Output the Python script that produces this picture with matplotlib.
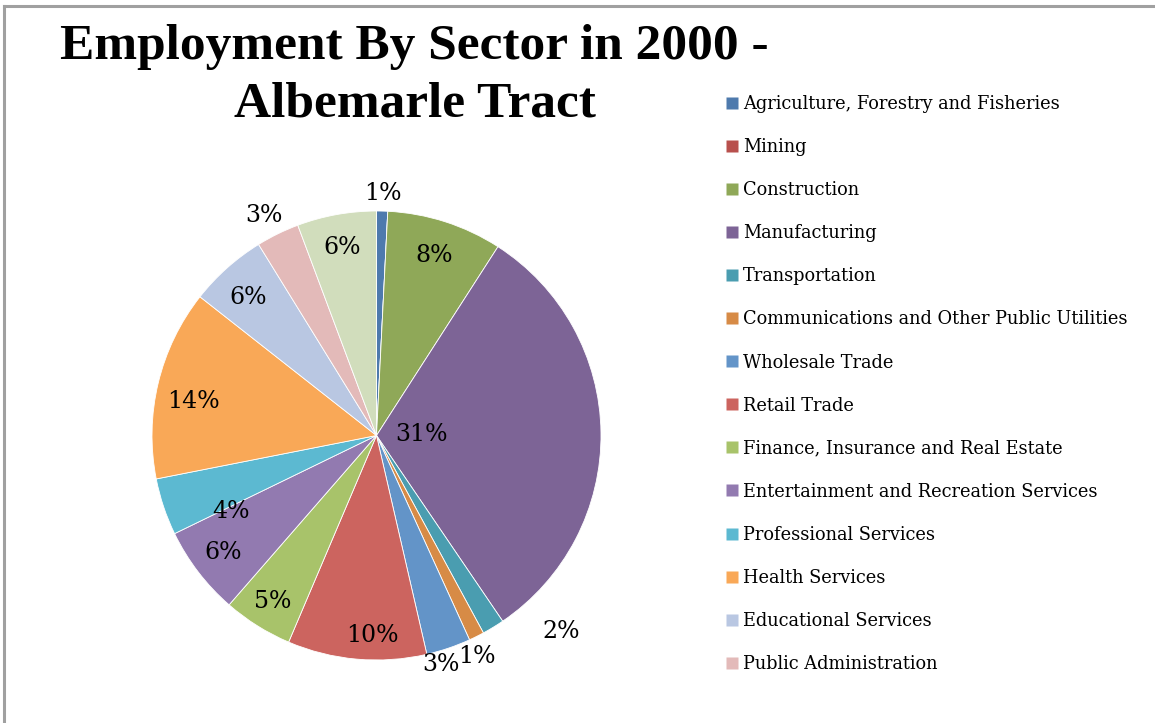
import matplotlib.pyplot as plt
from matplotlib.lines import Line2D
import numpy as np

# Employment shares by sector, percent of total
sectors = ['Agriculture, Forestry and Fisheries', 'Mining', 'Construction',
           'Manufacturing', 'Transportation',
           'Communications and Other Public Utilities', 'Wholesale Trade',
           'Retail Trade', 'Finance, Insurance and Real Estate',
           'Entertainment and Recreation Services', 'Professional Services',
           'Health Services', 'Educational Services', 'Public Administration',
           'Other Services']
shares = [0.8, 0.0, 8.3, 31.4, 1.6, 1.1, 3.2, 10.0, 5.0, 6.4, 4.1, 13.7, 5.6, 3.1, 5.7]
legendCount = 14  # legend box only has room for the first 14 entries

clr = ['#4E7AAD', '#B8504D', '#8FA858', '#7D6496', '#4A9DB0', '#D78B46',
       '#6394C8', '#CC645F', '#A8C36A', '#927AB0', '#5CB9D1', '#F9A857',
       '#B9C7E2', '#E3BAB9', '#D1DDBC']

# where each percentage label sits: fraction of radius, angle nudge (deg)
lblRad = [1.08, 1.0, 0.84, 0.20, 1.20, 1.08, 1.06, 0.89, 0.87, 0.86, 0.73, 0.83, 0.84, 1.10, 0.85]
lblShift = [0, 0, 0, 0, -12, 2, 3, -4, 0, 0, -9, -3, -1, -1, 0]

W, H = 1155, 723
fig = plt.figure(figsize=(W / 100, H / 100), dpi=100)
ax = fig.add_axes([0, 0, 1, 1])

cx, cy, R = 376.5, H - 435.5, 224.5
wedges, _ = ax.pie(shares, colors=clr, startangle=90, counterclock=False,
                   center=(cx, cy), radius=R, frame=True,
                   wedgeprops=dict(edgecolor='white', linewidth=0.6))
ax.set_xlim(0, W)
ax.set_ylim(0, H)
ax.set_aspect('equal')
ax.axis('off')

total = sum(shares)
cum = 0.0
for i, v in enumerate(shares):
    mid = (cum + v / 2) / total * 360.0 + lblShift[i]
    cum += v
    if v <= 0:
        continue
    ang = np.deg2rad(90 - mid)
    ax.text(cx + lblRad[i] * R * np.cos(ang), cy + lblRad[i] * R * np.sin(ang),
            '{0:.0f}%'.format(v), ha='center', va='center', fontsize=17,
            family='DejaVu Serif', color='black')

fig.text(0.359, 0.895, 'Employment By Sector in 2000 -\nAlbemarle Tract',
         ha='center', va='center', fontsize=37, fontweight='bold',
         family='Liberation Serif', linespacing=1.33)

handles = [Line2D([], [], marker='s', linestyle='none', markersize=9,
                  markerfacecolor=clr[k], markeredgecolor='none')
           for k in range(legendCount)]
fig.legend(handles, sectors[:legendCount], loc='upper left',
           bbox_to_anchor=(720 / W, 1 - 88 / H), frameon=False,
           prop={'family': 'DejaVu Serif', 'size': 12.8},
           handlelength=0.6, handletextpad=0.3, labelspacing=1.41,
           borderaxespad=0.)

# grey frame lines along the top and left edges
fig.add_artist(Line2D([3.5 / W, 1], [1 - 5.5 / H] * 2, color='#a0a0a0', lw=2.2))
fig.add_artist(Line2D([3.5 / W] * 2, [0, 1 - 5.5 / H], color='#a0a0a0', lw=2.2))

fig.savefig('out.png', dpi=100)
